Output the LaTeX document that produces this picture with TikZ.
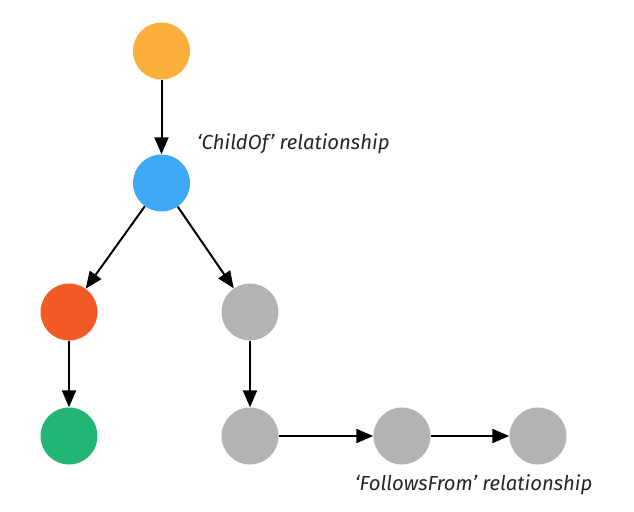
\documentclass[tikz,border=0pt]{standalone}
\usepackage{fontspec}
\setmainfont{Fira Sans}
\usetikzlibrary{arrows.meta}
\definecolor{corange}{HTML}{FBB03B}
\definecolor{cblue}{HTML}{3FA9F5}
\definecolor{cred}{HTML}{F15A24}
\definecolor{cgreen}{HTML}{22B573}
\definecolor{cgray}{HTML}{B3B3B3}
\tikzset{
  span/.style={circle, minimum size=57pt, inner sep=0pt, fill=#1},
  rel/.style={line width=2pt, -{Triangle[length=17pt, width=14pt]}, shorten >=0pt},
  lbl/.style={font=\fontsize{20.3}{24}\selectfont\itshape, text=black!85, inner sep=0pt}
}
\begin{document}
\begin{tikzpicture}[x=1pt, y=-1pt]
\useasboundingbox (0,0) rectangle (634,511);
\node[span=corange] (a) at (161.5,51) {};
\node[span=cblue] (b) at (161.5,183) {};
\node[span=cred] (c) at (69,312) {};
\node[span=cgray] (d) at (250,312) {};
\node[span=cgreen] (e) at (69,436) {};
\node[span=cgray] (f) at (250,436) {};
\node[span=cgray] (g) at (402,436) {};
\node[span=cgray] (h) at (538,436) {};
\draw[rel] (a) -- (b);
\draw[rel] (b) -- (c);
\draw[rel] (b) -- (d);
\draw[rel] (c) -- (e);
\draw[rel] (d) -- (f);
\draw[rel] (f) -- (g);
\draw[rel] (g) -- (h);
\node[lbl, anchor=base west] (l1) at (197,149) {‘ChildOf’ relationship};
\node[lbl, anchor=base west] (l2) at (355,490) {‘FollowsFrom’ relationship};
\end{tikzpicture}
\end{document}
